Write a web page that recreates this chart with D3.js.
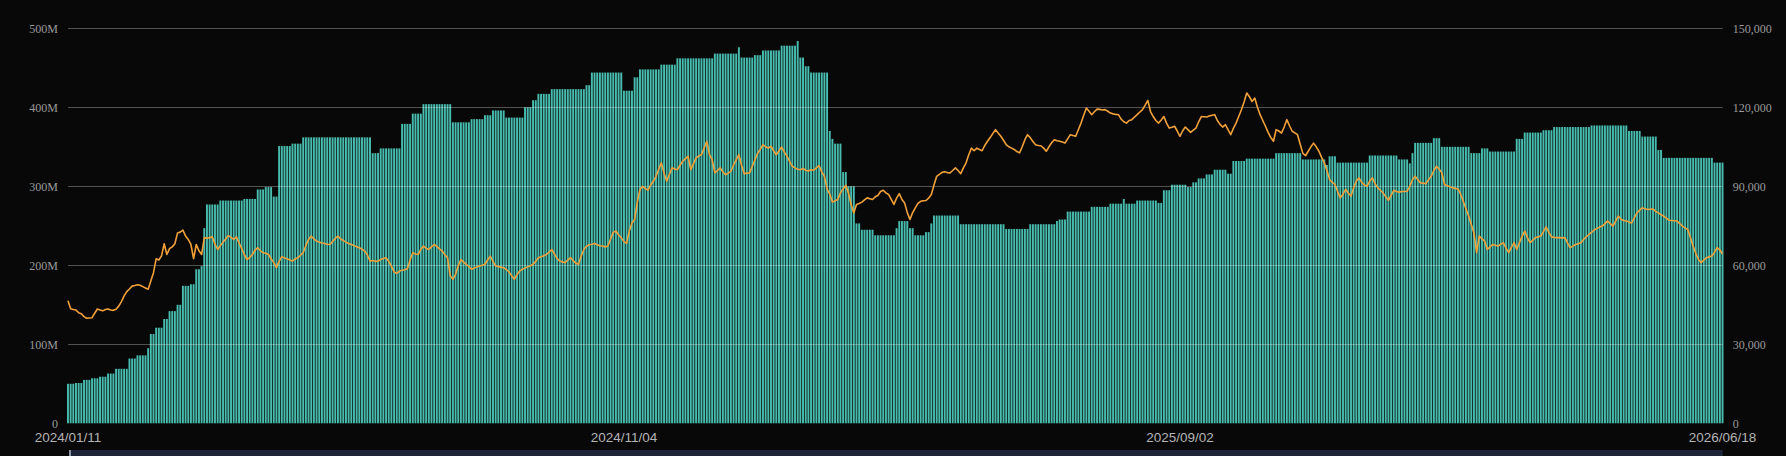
<!DOCTYPE html>
<html>
<head>
<meta charset="utf-8">
<script src="https://cdn.jsdelivr.net/npm/d3@7"></script>
<style>
  html, body { margin: 0; padding: 0; background: #080808; }
  svg { display: block; }
</style>
</head>
<body>
<div id="chart"></div>
<script>
// volume per bar, in millions (left axis)
const volume = [
  50,50,50,51,51,51,55,55,55,57, 57,57,59,59,59,63,63,63,69,69,
  69,69,69,82,82,82,86,86,86,86, 95,113,113,121,121,121,132,132,142,142,
  142,150,150,174,174,174,176,176,195,195, 199,247,277,277,277,277,277,282,282,282,
  282,282,282,282,282,282,284,284,284,284, 284,296,296,296,299,299,299,287,287,351,
  351,351,351,351,354,354,354,354,362,362, 362,362,362,362,362,362,362,362,362,362,
  362,362,362,362,362,362,362,362,362,362, 362,362,362,362,342,342,342,348,348,348,
  348,348,348,348,348,379,379,379,379,392, 392,392,392,404,404,404,404,404,404,404,
  404,404,404,404,381,381,381,381,381,381, 381,385,385,385,385,385,390,390,390,396,
  396,396,396,396,387,387,387,387,387,387, 387,400,400,400,409,409,417,417,417,417,
  417,423,423,423,423,423,423,423,423,423, 423,423,423,423,428,428,444,444,444,444,
  444,444,444,444,444,444,444,444,421,421, 421,421,438,438,448,448,448,448,448,448,
  448,448,454,454,454,454,454,454,462,462, 462,462,462,462,462,462,462,462,462,462,
  462,462,468,468,468,468,468,468,468,468, 468,476,463,463,463,463,463,466,466,466,
  472,472,472,472,472,472,472,478,478,478, 478,478,478,484,463,463,452,452,444,444,
  444,444,444,444,444,370,360,354,354,354, 318,318,300,300,300,253,253,245,245,245,
  245,245,238,238,238,238,238,238,238,238, 247,256,256,256,256,247,247,238,238,238,
  238,242,242,253,263,263,263,263,263,263, 263,263,263,263,252,252,252,252,252,252,
  252,252,252,252,252,252,252,252,252,252, 252,246,246,246,246,246,246,246,246,246,
  252,252,252,252,252,252,252,252,252,252, 256,258,258,258,268,268,268,268,268,268,
  268,268,268,274,274,274,274,274,274,274, 278,278,278,278,278,284,278,278,278,278,
  282,282,282,282,282,282,282,282,279,279, 295,295,295,302,302,302,302,302,302,299,
  299,305,305,310,310,310,315,315,315,321, 321,321,321,321,316,316,332,332,332,332,
  332,335,335,335,335,335,335,335,335,335, 335,335,342,342,342,342,342,342,342,342,
  342,342,334,334,334,334,334,334,334,334, 334,327,338,338,338,330,330,330,330,330,
  330,330,330,330,330,330,330,339,339,339, 339,339,339,339,339,339,339,339,334,334,
  334,334,329,342,355,355,355,355,355,355, 355,361,361,361,350,350,350,350,350,350,
  350,350,350,350,350,342,342,342,342,348, 348,348,344,344,344,344,344,344,344,344,
  344,344,360,360,360,368,368,368,368,368, 368,368,371,371,371,371,375,375,375,375,
  375,375,375,375,375,375,375,375,375,375, 377,377,377,377,377,377,377,377,377,377,
  377,377,377,377,370,370,370,370,370,363, 363,363,363,363,363,346,346,336,336,336,
  336,336,336,336,336,336,336,336,336,336, 336,336,336,336,336,336,330,330,330,330
];

// price per bar, in thousands (right axis)
const price = [
  46.5,43.5,43.2,43.0,42.0,41.6,40.5,39.9,40.0,40.1, 41.8,43.4,43.0,42.7,43.2,43.4,43.0,42.9,43.3,44.5,
  46.2,48.4,50.0,51.0,52.1,52.3,52.6,52.4,51.9,51.4, 50.9,54.0,57.2,62.5,62.0,63.6,68.2,64.1,66.3,67.0,
  68.2,72.3,72.6,73.4,71.1,69.8,67.9,62.5,67.9,65.5, 64.1,70.5,70.3,70.5,70.8,68.0,66.0,67.4,68.8,70.0,
  71.3,70.6,69.8,70.8,68.5,66.3,64.0,62.2,63.0,64.1, 65.8,66.7,65.5,64.8,64.6,64.1,62.5,61.0,59.1,61.5,
  63.3,62.8,62.5,62.0,61.6,62.4,62.9,63.8,64.8,67.5, 69.8,71.1,70.0,69.2,68.8,68.5,68.3,68.0,67.9,69.0,
  70.2,71.1,70.0,69.4,68.8,68.3,67.9,67.5,67.0,66.7, 66.1,65.4,64.0,61.6,61.8,61.5,61.6,62.2,62.6,62.9,
  61.5,59.7,57.5,56.9,57.8,58.1,58.3,58.7,62.0,64.8, 64.3,64.1,66.0,67.3,66.5,66.0,67.0,67.9,67.2,66.2,
  65.4,64.0,62.9,56.0,54.7,56.6,59.8,62.2,61.2,60.4, 59.5,58.5,59.0,59.4,59.7,60.0,60.4,62.0,63.5,61.5,
  59.7,59.5,59.3,59.1,58.4,57.5,56.0,54.7,56.5,57.8, 58.5,59.0,59.4,59.8,60.4,61.5,62.9,63.2,63.6,64.1,
  65.0,66.0,64.3,62.5,61.6,61.3,61.0,62.0,62.9,61.8, 60.8,60.4,63.5,66.0,67.2,67.8,68.0,68.3,67.8,67.4,
  67.3,67.0,67.3,70.0,72.5,73.0,71.5,70.5,69.0,68.3, 73.0,76.1,77.4,84.0,88.8,90.0,89.2,88.5,90.5,91.9,
  93.8,96.5,98.9,95.0,91.9,94.5,97.0,96.6,96.3,98.0, 99.5,100.5,101.4,96.3,98.5,100.8,101.5,102.0,104.5,107.1,
  102.0,100.1,95.1,96.0,97.0,95.5,94.4,95.0,95.7,98.0, 100.0,102.0,98.0,94.8,95.0,95.1,97.5,100.1,102.5,104.0,
  105.8,105.0,104.5,105.2,103.5,102.0,103.5,104.9,103.0,101.4, 99.5,97.6,97.0,96.5,96.3,96.8,96.1,95.8,96.3,96.1,
  97.0,97.9,95.5,93.8,89.0,87.0,84.0,84.5,85.0,87.5, 89.0,90.4,87.5,83.0,79.9,83.1,83.5,84.0,84.8,85.6,
  85.3,85.0,86.0,86.5,88.0,88.5,87.5,86.9,85.0,83.1, 85.5,87.2,85.0,83.7,80.0,77.4,80.0,81.8,83.5,84.3,
  84.5,84.6,85.5,86.9,90.5,93.8,94.5,95.3,95.5,95.2, 95.1,96.0,97.0,96.0,94.8,97.0,98.9,102.0,104.5,103.5,
  104.5,104.0,103.5,105.5,107.1,108.5,110.0,111.5,110.2,109.0, 107.5,105.8,105.0,104.5,104.0,103.2,102.7,105.0,107.7,109.6,
  108.5,107.0,105.8,105.5,105.4,104.5,103.3,105.0,106.5,107.7, 107.3,107.1,106.8,106.4,108.0,109.6,109.3,109.0,111.5,114.0,
  117.0,119.7,118.5,117.2,118.3,119.3,119.2,119.0,119.1,118.5, 117.8,117.5,117.3,117.2,115.5,114.5,114.0,115.0,115.3,116.3,
  117.2,118.2,119.1,120.8,122.6,118.4,116.5,115.0,114.0,115.2, 116.5,114.0,112.1,112.4,112.8,111.0,109.0,111.0,112.5,111.5,
  110.5,111.3,112.1,114.5,116.5,116.4,116.3,116.7,117.0,117.2, 115.0,113.5,112.5,113.4,111.5,109.6,112.0,114.0,116.5,119.1,
  122.0,125.4,124.0,122.2,123.5,120.0,117.2,115.0,112.8,110.5, 108.5,107.1,111.5,111.0,110.2,112.5,115.3,113.0,110.9,110.3,
  109.6,106.0,102.5,101.6,103.3,105.0,106.4,105.0,103.3,101.0, 98.9,96.0,92.6,91.5,90.7,88.0,85.6,87.0,88.8,87.5,
  86.2,89.5,92.0,93.2,91.5,90.5,90.0,92.0,93.2,91.0, 89.4,88.5,87.5,86.0,84.7,86.5,88.5,88.0,87.8,88.0,
  88.0,88.1,90.0,92.5,93.8,92.5,91.3,91.2,91.0,92.5, 93.8,96.0,97.6,96.5,95.1,90.7,90.2,89.8,89.4,89.2,
  89.0,87.0,84.3,81.5,78.7,75.5,72.3,64.8,71.1,70.0, 69.2,66.0,67.0,67.9,67.6,67.3,68.0,68.6,66.5,64.8,
  66.8,68.6,66.0,68.5,71.0,73.0,70.5,68.6,69.5,70.5, 70.8,71.1,72.8,74.6,72.5,70.8,70.6,70.5,70.5,70.4,
  70.5,68.5,66.7,67.3,67.9,68.2,68.6,69.8,70.8,71.7, 72.5,73.4,74.0,74.5,74.9,75.8,76.8,75.8,74.9,76.8,
  78.7,77.5,77.0,76.8,76.4,76.1,78.0,79.9,81.0,81.8, 81.5,81.2,81.3,81.4,80.5,79.9,79.2,78.7,77.9,77.1,
  77.0,76.9,76.8,75.8,74.9,74.2,73.6,70.5,67.3,64.5, 62.2,61.0,62.0,62.9,63.2,63.5,65.0,66.7,65.8,64.3
];

// category axis labels (bar index -> date shown)
const xTickIndex = [0, 208, 416, 619];
const xTickLabels = ["2024/01/11", "2024/11/04", "2025/09/02", "2026/06/18"];

// value axis ticks
const leftTicks = [0, 100, 200, 300, 400, 500];
const rightTicks = [0, 30, 60, 90, 120, 150];

const W = 1786, H = 456;
const plot = {left: 67, right: 1723.5, top: 28.3, bottom: 423.3};

const svg = d3.select("#chart").append("svg")
    .attr("width", W)
    .attr("height", H);

svg.append("rect").attr("width", W).attr("height", H).attr("fill", "#080808");

const x = d3.scaleBand()
    .domain(d3.range(volume.length))
    .range([plot.left, plot.right])
    .paddingInner(0.28)
    .paddingOuter(0);

const yL = d3.scaleLinear().domain([0, 500]).range([plot.bottom, plot.top]);
const yR = d3.scaleLinear().domain([0, 150]).range([plot.bottom, plot.top]);

// bars
svg.append("g")
  .selectAll("rect")
  .data(volume)
  .join("rect")
    .attr("x", (d, i) => x(i))
    .attr("y", d => yL(d))
    .attr("width", x.bandwidth())
    .attr("height", d => yL(0) - yL(d))
    .attr("fill", "#48bcae");

// grid, drawn over the bars
svg.append("g")
  .selectAll("line")
  .data(leftTicks.slice(1))
  .join("line")
    .attr("x1", 68).attr("x2", 1722.7)
    .attr("y1", d => Math.round(yL(d)) + 0.5)
    .attr("y2", d => Math.round(yL(d)) + 0.5)
    .attr("stroke", "rgba(255,255,255,0.3)")
    .attr("stroke-width", 1);

// price line
const line = d3.line()
    .x((d, i) => x(i) + x.bandwidth() / 2)
    .y(d => yR(d));

svg.append("path")
    .datum(price)
    .attr("d", line)
    .attr("fill", "none")
    .attr("stroke", "#f2a13a")
    .attr("stroke-width", 1.6)
    .attr("stroke-linejoin", "round");

// left axis
const axL = svg.append("g")
    .attr("transform", "translate(58,0)")
    .call(d3.axisLeft(yL).tickValues(leftTicks).tickSize(0).tickPadding(0)
      .tickFormat(d => d === 0 ? "0" : d + "M"));
axL.select(".domain").remove();
axL.selectAll("text")
    .attr("fill", "#9a9a9a")
    .style("font-family", "'Liberation Serif', 'DejaVu Serif', serif")
    .style("font-size", "12px");

// right axis
const axR = svg.append("g")
    .attr("transform", "translate(1732.7,0)")
    .call(d3.axisRight(yR).tickValues(rightTicks).tickSize(0).tickPadding(0)
      .tickFormat(d => d3.format(",")(d * 1000)));
axR.select(".domain").remove();
axR.selectAll("text")
    .attr("fill", "#9a9a9a")
    .style("font-family", "'Liberation Serif', 'DejaVu Serif', serif")
    .style("font-size", "12px");

// bottom labels
svg.append("g")
  .selectAll("text")
  .data(xTickIndex)
  .join("text")
    .attr("x", d => x(d) + x.bandwidth() / 2)
    .attr("y", 441.5)
    .attr("text-anchor", "middle")
    .attr("fill", "#b4b4b4")
    .style("font-family", "'Liberation Sans', Arial, sans-serif")
    .style("font-size", "13.5px")
    .text((d, i) => xTickLabels[i]);

// slider strip at the bottom edge
svg.append("rect")
    .attr("x", 69).attr("y", 450)
    .attr("width", 1722.7 - 69).attr("height", 8)
    .attr("fill", "#1d2438");
svg.append("rect")
    .attr("x", 69).attr("y", 450)
    .attr("width", 2).attr("height", 8)
    .attr("fill", "#8a93a8");
</script>
</body>
</html>
